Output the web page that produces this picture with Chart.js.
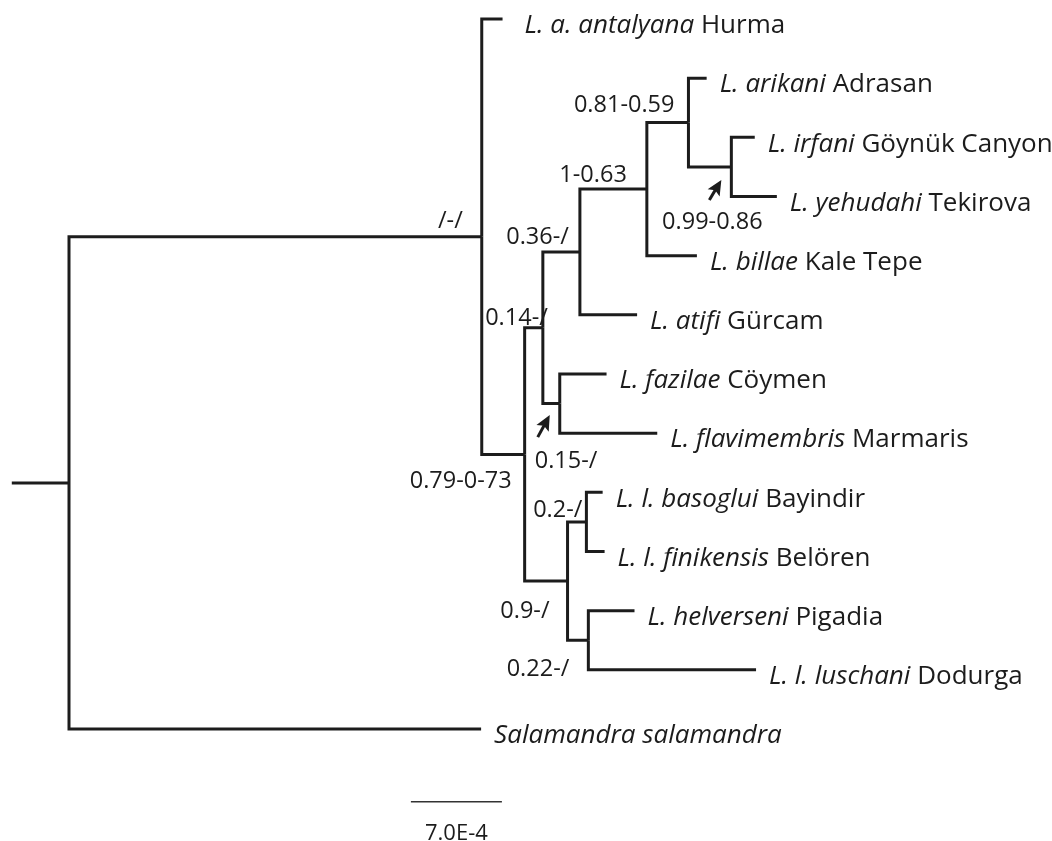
<!DOCTYPE html>
<html>
<head>
<meta charset="utf-8">
<script src="https://cdn.jsdelivr.net/npm/chart.js@4.4.1/dist/chart.umd.min.js"></script>
<style>
  html, body { margin: 0; padding: 0; background: #fff; }
  #tree { display: block; }
</style>
</head>
<body>
<canvas id="tree" width="1052" height="841"></canvas>
<script>
// tips, top to bottom; branch lengths in units of 1e-4
const tipSpecies = ["L. a. antalyana", "L. arikani", "L. irfani", "L. yehudahi", "L. billae", "L. atifi", "L. fazilae", "L. flavimembris", "L. l. basoglui", "L. l. finikensis", "L. helverseni", "L. l. luschani", "Salamandra salamandra"];
const tipLocality = ["Hurma", "Adrasan", "Göynük Canyon", "Tekirova", "Kale Tepe", "Gürcam", "Cöymen", "Marmaris", "Bayindir", "Belören", "Pigadia", "Dodurga", ""];
const tipParent = ["A", "D", "H", "H", "F", "E", "G", "G", "J", "J", "K", "K", "R"];
const tipBranch = [1.6, 1.4, 1.8, 3.5, 3.85, 4.4, 3.6, 7.5, 1.25, 1.4, 3.55, 12.9, 31.7];

// internal nodes
const nodeNames = ["R", "A", "B", "C", "E", "F", "D", "H", "G", "I", "J", "K"];
const nodeParent = [null, "R", "A", "B", "C", "E", "F", "D", "C", "B", "I", "I"];
const nodeBranch = [4.4, 31.75, 3.3, 1.4, 2.85, 5.15, 3.2, 3.3, 1.3, 3.3, 1.45, 1.6];
const nodeSupport = ["", "/-/", "0.79-0-73", "0.14-/", "0.36-/", "1-0.63", "0.81-0.59", "0.99-0.86", "0.15-/", "0.9-/", "0.2-/", "0.22-/"];

const scaleBarLength = 7;
const scaleBarLabel = "7.0E-4";

// layout (pixels / axis placement)
const supportPlace = {
  A: ["right", -19, -17], B: ["right", -13, 25], C: ["right", 5, -11], E: ["right", -11, -16],
  F: ["right", -20, -16], D: ["right", -14, -19], H: ["center", -19, 54], G: ["left", -25, 56],
  I: ["right", -18, 28], J: ["right", -4, -13], K: ["right", -19, 27],
};
const arrowPlace = { H: [-22, 33, -10, 13], G: [-22, 33.5, -10, 11.5] };
const scaleBarAt = { x: 26.3, y: 13.23 };
const tipFont = 26;
const supFont = 23.5;
const inkColor = "#1c1c1c";

const parentOf = {};
const branchOf = {};
const children = {};
tipSpecies.forEach((_, i) => {
  parentOf["t" + i] = tipParent[i];
  branchOf["t" + i] = tipBranch[i];
});
nodeNames.forEach((n, i) => {
  parentOf[n] = nodeParent[i];
  branchOf[n] = nodeBranch[i];
});
Object.keys(parentOf).forEach((id) => {
  const p = parentOf[id];
  if (!p) return;
  (children[p] = children[p] || []).push(id);
});

const X = {};
const Y = {};
function placeX(id) {
  X[id] = parentOf[id] ? X[parentOf[id]] + branchOf[id] : 0;
  (children[id] || []).forEach(placeX);
}
function placeY(id) {
  if (id[0] === "t") {
    Y[id] = Number(id.slice(1));
    return Y[id];
  }
  const ys = children[id].map(placeY);
  Y[id] = (Math.min(...ys) + Math.max(...ys)) / 2;
  return Y[id];
}
placeX("R");
placeY("R");

const edgeSets = Object.keys(parentOf).filter((id) => parentOf[id]).map((id) => {
  const p = parentOf[id];
  return {
    data: [{ x: X[p], y: Y[p] }, { x: X[p], y: Y[id] }, { x: X[id], y: Y[id] }],
    showLine: true, borderColor: inkColor, borderWidth: 3, pointRadius: 0,
    borderJoinStyle: "miter", borderCapStyle: "butt", tension: 0,
  };
});
edgeSets.push({
  data: [{ x: X.R - branchOf.R, y: Y.R }, { x: X.R, y: Y.R }],
  showLine: true, borderColor: inkColor, borderWidth: 3, pointRadius: 0, borderCapStyle: "butt",
});
edgeSets.push({
  data: [{ x: scaleBarAt.x, y: scaleBarAt.y }, { x: scaleBarAt.x + scaleBarLength, y: scaleBarAt.y }],
  showLine: true, borderColor: "#333", borderWidth: 1.5, pointRadius: 0, borderCapStyle: "butt",
});

// cursor-like arrow: short tail, solid head
function drawArrow(ctx, x0, y0, x1, y1) {
  const ang = Math.atan2(y1 - y0, x1 - x0);
  const c = Math.cos(ang);
  const s = Math.sin(ang);
  const len = 15;
  const half = 7;
  const bx = x1 - c * len;
  const by = y1 - s * len;
  ctx.beginPath();
  ctx.moveTo(x0, y0);
  ctx.lineTo(x1 - c * len * 0.6, y1 - s * len * 0.6);
  ctx.lineWidth = 3;
  ctx.stroke();
  ctx.beginPath();
  ctx.moveTo(x1, y1);
  ctx.lineTo(bx + s * half, by - c * half);
  ctx.lineTo(x1 - c * len * 0.8, y1 - s * len * 0.8);
  ctx.lineTo(bx - s * half, by + c * half);
  ctx.closePath();
  ctx.fill();
}

const treeLabels = {
  id: "treeLabels",
  afterDatasetsDraw(chart) {
    const { ctx } = chart;
    const sx = chart.scales.x;
    const sy = chart.scales.y;
    ctx.save();
    ctx.fillStyle = inkColor;
    ctx.strokeStyle = inkColor;
    ctx.textBaseline = "alphabetic";

    tipSpecies.forEach((sp, i) => {
      const id = "t" + i;
      let px = sx.getPixelForValue(X[id]) + (i === 0 ? 22 : 13);
      const py = sy.getPixelForValue(Y[id]) + 5 + tipFont * 0.357;
      ctx.textAlign = "left";
      ctx.font = `italic ${tipFont}px "Open Sans"`;
      ctx.fillText(sp, px, py);
      px += ctx.measureText(sp).width + tipFont * 0.26;
      ctx.font = `${tipFont}px "Open Sans"`;
      ctx.fillText(tipLocality[i], px, py);
    });

    ctx.font = `${supFont}px "Open Sans"`;
    nodeNames.forEach((n, i) => {
      if (!nodeSupport[i]) return;
      const [align, dx, dy] = supportPlace[n];
      ctx.textAlign = align;
      ctx.fillText(nodeSupport[i], sx.getPixelForValue(X[n]) + dx, sy.getPixelForValue(Y[n]) + dy + supFont * 0.357);
    });

    Object.keys(arrowPlace).forEach((n) => {
      const [ax0, ay0, ax1, ay1] = arrowPlace[n];
      const nx = sx.getPixelForValue(X[n]);
      const ny = sy.getPixelForValue(Y[n]);
      drawArrow(ctx, nx + ax0, ny + ay0, nx + ax1, ny + ay1);
    });

    ctx.textAlign = "center";
    ctx.font = `22px "Open Sans"`;
    const mid = sx.getPixelForValue(scaleBarAt.x + scaleBarLength / 2);
    ctx.fillText(scaleBarLabel, mid, sy.getPixelForValue(scaleBarAt.y) + 30 + 22 * 0.357);
    ctx.restore();
  },
};

new Chart(document.getElementById("tree"), {
  type: "scatter",
  data: { datasets: edgeSets },
  options: {
    responsive: false,
    animation: false,
    layout: { padding: 0 },
    plugins: { legend: { display: false }, tooltip: { enabled: false } },
    scales: {
      x: { type: "linear", min: -69 / 13, max: (1052 - 69) / 13, display: false },
      y: { type: "linear", min: -19 / 59.17, max: (841 - 19) / 59.17, reverse: true, display: false },
    },
  },
  plugins: [treeLabels],
});
</script>
</body>
</html>
